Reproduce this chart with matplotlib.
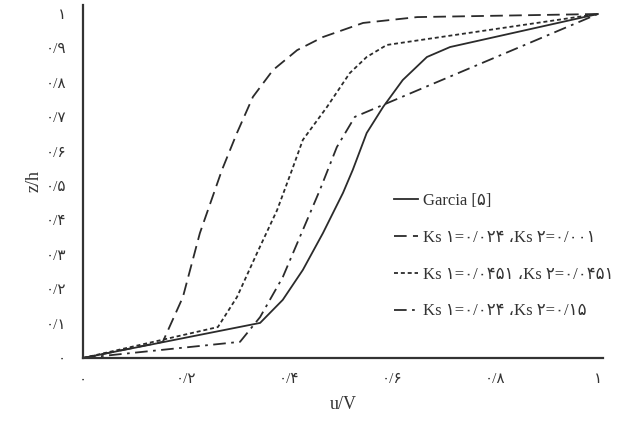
import numpy as np
import matplotlib
matplotlib.use("Agg")
from matplotlib import pyplot as plt

FAM = ['Liberation Serif', 'DejaVu Sans']
INK = '#2b2b2b'

# Garcia [5]
garcia_u = [0, 0.344, 0.388, 0.427, 0.466, 0.505, 0.524, 0.551, 0.583, 0.621, 0.668, 0.713, 1.0]
garcia_z = [0, 0.102, 0.169, 0.256, 0.363, 0.480, 0.547, 0.654, 0.730, 0.808, 0.875, 0.904, 1.0]

# Ks1=0.024, Ks2=0.001
ks_a_u = [0, 0.155, 0.194, 0.227, 0.270, 0.299, 0.330, 0.369, 0.416, 0.466, 0.544, 0.649, 1.0]
ks_a_z = [0, 0.047, 0.177, 0.363, 0.547, 0.654, 0.759, 0.837, 0.895, 0.933, 0.974, 0.991, 1.0]

# Ks1=0.0451, Ks2=0.0451
ks_b_u = [0, 0.262, 0.299, 0.338, 0.377, 0.406, 0.427, 0.474, 0.518, 0.551, 0.590, 1.0]
ks_b_z = [0, 0.090, 0.177, 0.305, 0.430, 0.547, 0.634, 0.730, 0.828, 0.875, 0.910, 1.0]

# Ks1=0.024, Ks2=0.15
ks_c_u = [0, 0.305, 0.344, 0.388, 0.427, 0.460, 0.493, 0.528, 1.0]
ks_c_z = [0, 0.047, 0.119, 0.235, 0.372, 0.488, 0.613, 0.701, 1.0]

labels = ['Garcia [۵]',
          'Ks ۱=۰/۰۲۴ ،Ks ۲=۰/۰۰۱',
          'Ks ۱=۰/۰۴۵۱ ،Ks ۲=۰/۰۴۵۱',
          'Ks ۱=۰/۰۲۴ ،Ks ۲=۰/۱۵']

ticks = [0, 0.2, 0.4, 0.6, 0.8, 1.0]
xtick_labels = ['۰', '۰/۲', '۰/۴', '۰/۶', '۰/۸', '۱']
yticks = [0, 0.1, 0.2, 0.3, 0.4, 0.5, 0.6, 0.7, 0.8, 0.9, 1.0]
ytick_labels = ['۰', '۰/۱', '۰/۲', '۰/۳', '۰/۴', '۰/۵', '۰/۶', '۰/۷', '۰/۸', '۰/۹', '۱']

fig = plt.figure(figsize=(6.22, 4.21), dpi=100)
ax = fig.add_axes([83/622, 1 - 358/421, (603 - 83)/622, (358 - 5)/421])

lw = 1.3
ax.plot(garcia_u, garcia_z, color=INK, lw=lw, ls='-', label=labels[0])
ax.plot(ks_a_u, ks_a_z, color=INK, lw=lw, ls=(0, (7, 3.5)), label=labels[1])
ax.plot(ks_b_u, ks_b_z, color=INK, lw=lw, ls=(0, (2.2, 1.6)), label=labels[2])
ax.plot(ks_c_u, ks_c_z, color=INK, lw=lw, ls=(0, (7, 3, 1.5, 3)), label=labels[3])

ax.set_xlim(0, 1.01)
ax.set_ylim(0, (358 - 5)/344)
for s in ['top', 'right']:
    ax.spines[s].set_visible(False)
for s in ['left', 'bottom']:
    ax.spines[s].set_linewidth(1.6)
    ax.spines[s].set_color('#333333')

ax.set_xticks(ticks)
ax.set_xticklabels(xtick_labels, family=FAM, fontsize=11, color='#333333')
ax.set_yticks(yticks)
ax.set_yticklabels(ytick_labels, family=FAM, fontsize=11, color='#333333')
ax.tick_params(axis='x', length=0, pad=11)
ax.tick_params(axis='y', length=0, pad=12)

ax.set_xlabel('u/V', family=FAM, fontsize=13, color='#333333', labelpad=7)
ax.set_ylabel('z/h', family=FAM, fontsize=13, color='#333333', labelpad=2)

leg = ax.legend(loc='upper left', bbox_to_anchor=(0.57, 0.51), frameon=False,
                handlelength=1.4, handletextpad=0.3, labelspacing=1.25,
                prop={'family': FAM, 'size': 12})
for t in leg.get_texts():
    t.set_color('#333333')

fig.savefig('out.png', dpi=100)
